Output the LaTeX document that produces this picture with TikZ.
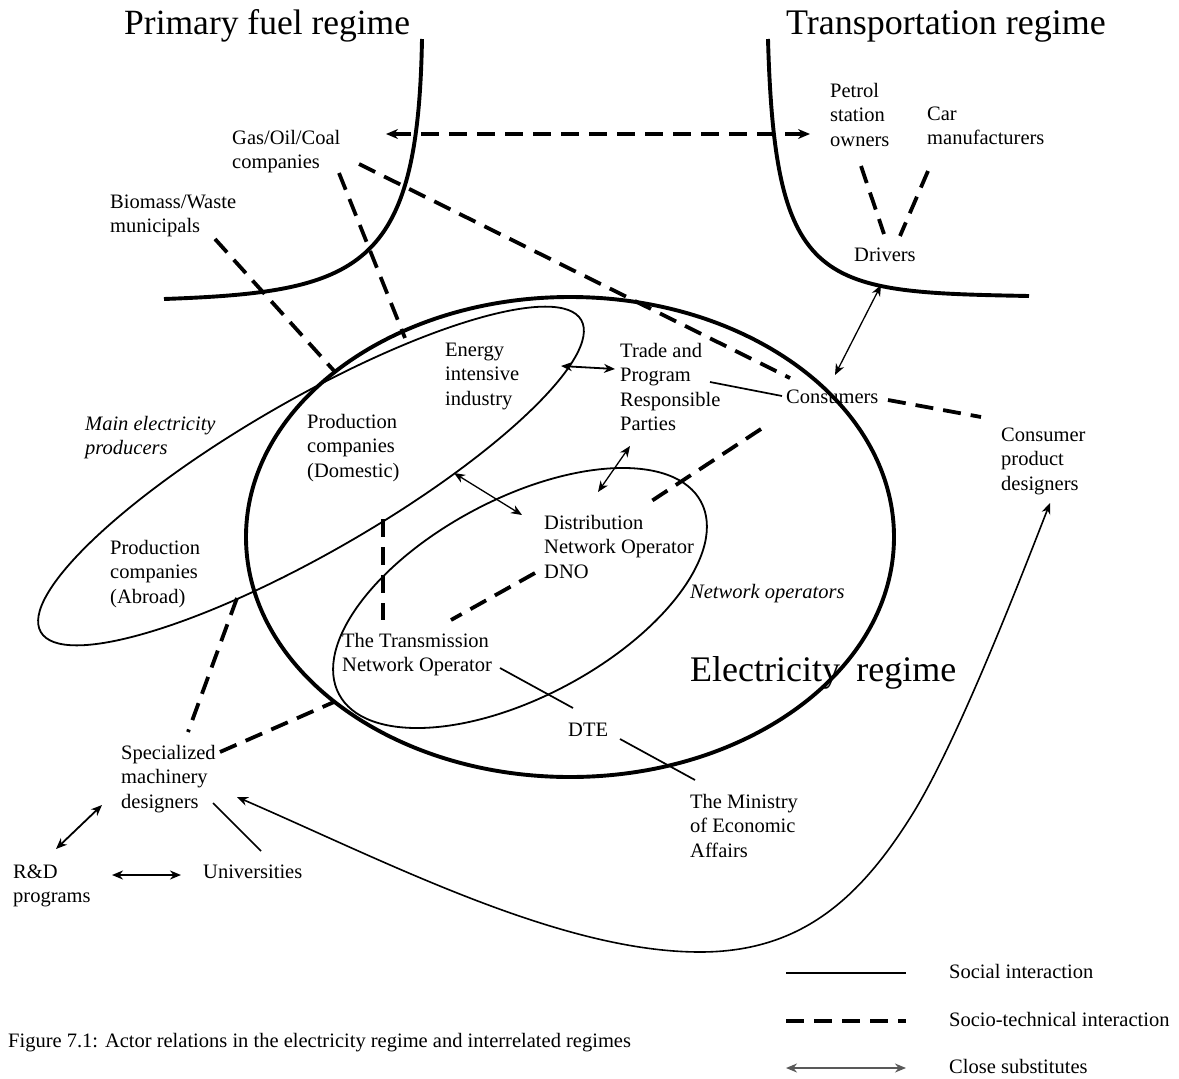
\documentclass[tikz,border=0pt]{standalone}
\usepackage{fontspec}
\setmainfont{Liberation Serif}
\usetikzlibrary{arrows.meta}
\begin{document}
\begin{tikzpicture}[x=1pt, y=-1pt,
  every node/.style={inner sep=0pt},
  actor/.style={anchor=north west, align=left, yshift=17.2pt,
    font=\fontsize{20.5}{24.5}\selectfont},
  group/.style={actor, font=\fontsize{20.5}{24.5}\selectfont\itshape},
  regime/.style={anchor=base west, font=\fontsize{35.5}{40}\selectfont},
  boundary/.style={line width=3.9pt},
  cluster/.style={line width=1.8pt},
  social/.style={line width=1.7pt},
  socio/.style={line width=3.8pt, dash pattern=on 18pt off 10pt},
  subtip/.tip={Stealth[length=11pt, width=9pt, inset=3.5pt]},
  bigtip/.tip={Stealth[length=12pt, width=10pt, inset=4pt]},
  subst/.style={line width=1.8pt, arrows={subtip-subtip}},
  substthin/.style={line width=1.3pt, arrows={subtip-subtip}},
  legendtext/.style={anchor=base west, font=\fontsize{20.5}{24.5}\selectfont},
]
\useasboundingbox (0,0) rectangle (1179,1079);

% regime titles
\node[regime] (fuel) at (124,34) {Primary fuel regime};
\node[regime, font=\fontsize{36}{40}\selectfont] (transport) at (786,34) {Transportation regime};
\node[regime, font=\fontsize{36}{40}\selectfont] (elec) at (690,681) {Electricity\hspace{0.45em}regime};

% regime boundaries
\draw[boundary] (422,39) .. controls (418,270) and (360,292) .. (164,299);
\draw[boundary] (768,39) .. controls (775,290) and (820,292) .. (1029,296);
\draw[boundary] (570,537) ellipse [x radius=324pt, y radius=240pt];

% actor groups
\draw[cluster, rotate around={30:(311,476)}] (311,476) ellipse [x radius=312pt, y radius=76pt];
\draw[cluster, rotate around={28:(520,598)}] (520,598) ellipse [x radius=205pt, y radius=99pt];

% actors
\node[actor] (gas) at (232,144) {\strut Gas/Oil/Coal\\companies};
\node[actor] (bio) at (110,208) {\strut Biomass/Waste\\municipals};
\node[actor] (petrol) at (830,97) {\strut Petrol\\station\\owners};
\node[actor] (car) at (927,120) {\strut Car\\manufacturers};
\node[actor] (drivers) at (854,261) {\strut Drivers};
\node[actor] (energy) at (445,356) {\strut Energy\\intensive\\industry};
\node[actor] (trade) at (620,357) {\strut Trade and\\Program\\Responsible\\Parties};
\node[actor] (consumers) at (786,403) {\strut Consumers};
\node[actor] (cpd) at (1001,441) {\strut Consumer\\product\\designers};
\node[actor] (domestic) at (307,428) {\strut Production\\companies\\(Domestic)};
\node[group] (mep) at (85,430) {\strut Main electricity\\producers};
\node[actor] (abroad) at (110,554) {\strut Production\\companies\\(Abroad)};
\node[actor] (dno) at (544,529) {\strut Distribution\\Network Operator\\DNO};
\node[group] (netops) at (690,598) {\strut Network operators};
\node[actor] (tno) at (342,647) {\strut The Transmission\\Network Operator};
\node[actor] (dte) at (568,736) {\strut DTE};
\node[actor] (ministry) at (690,808) {\strut The Ministry\\of Economic\\Affairs};
\node[actor] (spec) at (121,759) {\strut Specialized\\machinery\\designers};
\node[actor] (rnd) at (13,878) {\strut R\&D\\programs};
\node[actor] (univ) at (203,878) {\strut Universities};

% connector end points
\coordinate (bio-a) at (215,239);   \coordinate (bio-b) at (336,373);
\coordinate (gas-a) at (339,173);   \coordinate (gas-b) at (405,338);
\coordinate (gas-c) at (359,164);   \coordinate (cons-a) at (790,378);
\coordinate (gas-w) at (386,134);   \coordinate (petrol-w) at (810,134);
\coordinate (petrol-s) at (861,166); \coordinate (drv-a) at (884,234);
\coordinate (car-s) at (928,171);   \coordinate (drv-b) at (900,236);
\coordinate (cons-e) at (888,400);  \coordinate (cpd-w) at (981,417);
\coordinate (cons-s) at (761,429);  \coordinate (dno-ne) at (650,502);
\coordinate (dno-w) at (535,573);   \coordinate (tno-ne) at (451,620);
\coordinate (dom-s) at (383,519);   \coordinate (tno-n) at (383,620);
\coordinate (abr-s) at (237,598);   \coordinate (spec-n) at (188,732);
\coordinate (spec-e) at (220,752);  \coordinate (grid-sw) at (334,702);
\coordinate (prog-e) at (710,382);  \coordinate (cons-w) at (782,396);
\coordinate (tno-e) at (500,668);   \coordinate (dte-n) at (573,708);
\coordinate (dte-e) at (620,739);   \coordinate (min-n) at (695,780);
\coordinate (spec-se) at (213,803); \coordinate (univ-n) at (261,851);
\coordinate (energy-e) at (561,366); \coordinate (trade-w) at (615,369);
\coordinate (trade-s) at (630,446); \coordinate (dno-n) at (598,492);
\coordinate (prod-se) at (454,473); \coordinate (dno-nw) at (522,515);
\coordinate (drv-s) at (881,285);   \coordinate (cons-n) at (835,375);
\coordinate (spec-sw) at (102,805); \coordinate (rnd-n) at (56,849);
\coordinate (rnd-e) at (112,875);   \coordinate (univ-w) at (181,875);
\coordinate (spec-tip) at (237,797); \coordinate (cpd-s) at (1050,503);

% socio-technical interactions
\draw[socio] (bio-a) -- (bio-b);
\draw[socio] (gas-a) -- (gas-b);
\draw[socio] (gas-c) -- (cons-a);
\draw[socio, arrows={bigtip-bigtip}] (gas-w) -- (petrol-w);
\draw[socio] (petrol-s) -- (drv-a);
\draw[socio] (car-s) -- (drv-b);
\draw[socio] (cons-e) -- (cpd-w);
\draw[socio] (cons-s) -- (dno-ne);
\draw[socio] (dno-w) -- (tno-ne);
\draw[socio] (dom-s) -- (tno-n);
\draw[socio] (abr-s) -- (spec-n);
\draw[socio] (spec-e) -- (grid-sw);

% social interactions
\draw[social] (prog-e) -- (cons-w);
\draw[social] (tno-e) -- (dte-n);
\draw[social] (dte-e) -- (min-n);
\draw[social] (spec-se) -- (univ-n);

% close substitutes
\draw[subst] (energy-e) -- (trade-w);
\draw[substthin] (trade-s) -- (dno-n);
\draw[substthin] (prod-se) -- (dno-nw);
\draw[substthin] (drv-s) -- (cons-n);
\draw[subst] (spec-sw) -- (rnd-n);
\draw[subst] (rnd-e) -- (univ-w);
\draw[substthin, line width=1.6pt] (spec-tip) .. controls (387,862) and (560,952) .. (700,952)
  .. controls (800,952) and (860,900) .. (915,810)
  .. controls (960,735) and (1020,580) .. (cpd-s);

% legend
\coordinate (lg1a) at (786,973); \coordinate (lg1b) at (906,973);
\coordinate (lg2a) at (786,1021); \coordinate (lg2b) at (906,1021);
\coordinate (lg3a) at (786,1068); \coordinate (lg3b) at (906,1068);
\draw[social] (lg1a) -- (lg1b);
\draw[socio] (lg2a) -- (lg2b);
\draw[substthin, draw=black!65, fill=black!65] (lg3a) -- (lg3b);
\node[legendtext] (lgt1) at (949,978) {Social interaction};
\node[legendtext] (lgt2) at (949,1026) {Socio-technical interaction};
\node[legendtext] (lgt3) at (949,1073) {Close substitutes};

% caption
\node[legendtext] (caption) at (8,1047)
  {Figure 7.1: Actor relations in the electricity regime and interrelated regimes};
\end{tikzpicture}
\end{document}
